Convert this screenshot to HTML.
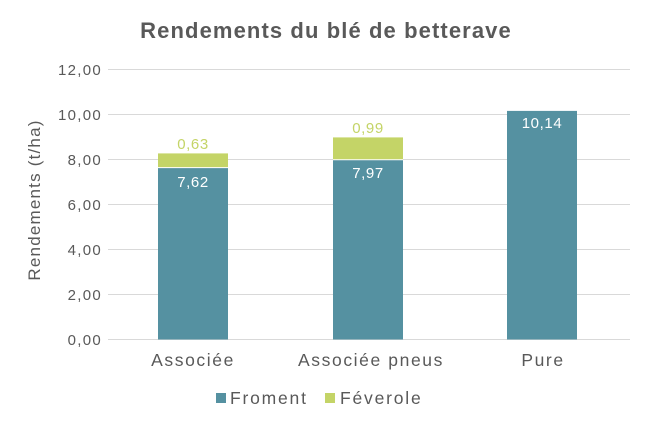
<!DOCTYPE html>
<html><head><meta charset="utf-8"><style>
body{margin:0;background:#fff;}
svg text{font-family:"Liberation Sans",sans-serif;}
</style></head><body>
<svg width="650" height="426" xmlns="http://www.w3.org/2000/svg">
<rect width="650" height="426" fill="#fff"/>
<text x="326" y="38" text-anchor="middle" font-size="22" font-weight="bold" fill="#595959" letter-spacing="1.1">Rendements du blé de betterave</text>
<g stroke="#d9d9d9" stroke-width="1">
<line x1="108" x2="630" y1="69.5" y2="69.5"/>
<line x1="108" x2="630" y1="114.5" y2="114.5"/>
<line x1="108" x2="630" y1="159.5" y2="159.5"/>
<line x1="108" x2="630" y1="204.5" y2="204.5"/>
<line x1="108" x2="630" y1="249.5" y2="249.5"/>
<line x1="108" x2="630" y1="294.5" y2="294.5"/>
<line x1="108" x2="630" y1="339.5" y2="339.5"/>
</g>
<g font-size="15" fill="#595959" text-anchor="end" letter-spacing="1.3">
<text x="102" y="75">12,00</text>
<text x="102" y="120">10,00</text>
<text x="102" y="165">8,00</text>
<text x="102" y="210">6,00</text>
<text x="102" y="255">4,00</text>
<text x="102" y="300">2,00</text>
<text x="102" y="345">0,00</text>
</g>
<text transform="translate(40,200) rotate(-90)" text-anchor="middle" font-size="17" fill="#595959" letter-spacing="1.2">Rendements (t/ha)</text>
<rect x="158" y="153.4" width="70" height="14.2" fill="#c4d467"/>
<rect x="158" y="167.6" width="70" height="171.9" fill="#5591a1"/>
<line x1="158" x2="228" y1="167.6" y2="167.6" stroke="#fff" stroke-width="1"/>
<rect x="333" y="137.4" width="70" height="22.3" fill="#c4d467"/>
<rect x="333" y="159.7" width="70" height="179.8" fill="#5591a1"/>
<line x1="333" x2="403" y1="159.7" y2="159.7" stroke="#fff" stroke-width="1"/>
<rect x="507" y="110.9" width="70" height="228.6" fill="#5591a1"/>
<g font-size="15" text-anchor="middle" letter-spacing="0.6">
<text x="193" y="149" fill="#c4d467">0,63</text>
<text x="193" y="187" fill="#fff">7,62</text>
<text x="368" y="133" fill="#c4d467">0,99</text>
<text x="368" y="178" fill="#fff">7,97</text>
<text x="542" y="128" fill="#fff">10,14</text>
</g>
<g font-size="17.5" fill="#595959" text-anchor="middle" letter-spacing="1.6">
<text x="193" y="366">Associée</text>
<text x="371" y="366">Associée pneus</text>
<text x="543" y="366">Pure</text>
</g>
<rect x="216" y="393" width="10" height="10" fill="#5591a1"/>
<text x="230" y="404" font-size="17.5" fill="#595959" letter-spacing="1.8">Froment</text>
<rect x="325" y="393" width="10" height="10" fill="#c4d467"/>
<text x="340" y="404" font-size="17.5" fill="#595959" letter-spacing="1.8">Féverole</text>
</svg>
</body></html>
